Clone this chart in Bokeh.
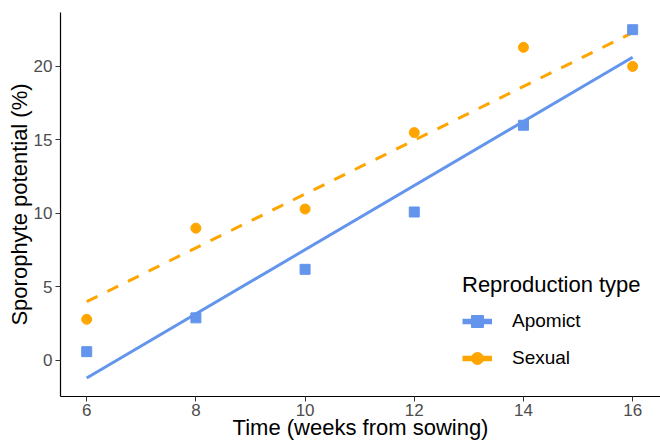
import numpy as np
from bokeh.plotting import figure
from bokeh.models import Range1d, FixedTicker, Legend, LegendItem
from bokeh.embed import file_html
from bokeh.resources import INLINE

weeks = [6, 8, 10, 12, 14, 16]
apomict = [0.6, 2.9, 6.2, 10.1, 16.0, 22.5]
sexual = [2.8, 9.0, 10.3, 15.5, 21.3, 20.0]
x_ticks = [6, 8, 10, 12, 14, 16]
y_ticks = [0, 5, 10, 15, 20]

BLUE = "#6495ED"
ORANGE = "#FFA500"
FONT = "Liberation Sans"

def fit(x, y):
    b, a = np.polyfit(x, y, 1)
    xs = np.array([min(x), max(x)], dtype=float)
    return xs, a + b * xs

Y0, Y1 = -2.45, 23.67
p = figure(width=660, height=441, output_backend="svg", toolbar_location=None,
           x_range=Range1d(5.52, 16.51), y_range=Range1d(Y0, Y1),
           min_border_left=60, min_border_right=0, min_border_top=12, min_border_bottom=45)
p.frame_width = 600
p.frame_height = 384
p.outline_line_color = None
p.grid.visible = False
p.background_fill_color = "white"

xa, ya = fit(weeks, apomict)
xs_, ys_ = fit(weeks, sexual)

p.line(xa, ya, line_color=BLUE, line_width=3)
p.line(xs_, ys_, line_color=ORANGE, line_width=3, line_dash="12 11")
p.scatter(weeks, apomict, marker="square", size=10, fill_color=BLUE, line_color=BLUE)
p.scatter(weeks, sexual, marker="circle", size=10, fill_color=ORANGE, line_color=ORANGE)

# legend-only key glyphs (larger, as in the reference), placed outside the visible range
off_x = [weeks[0], weeks[1]]
off_y = [Y0 - 100, Y0 - 100]
kla = p.line(off_x, off_y, line_color=BLUE, line_width=5.5)
kma = p.scatter(off_x, off_y, marker="square", size=13, fill_color=BLUE, line_color=BLUE)
kls = p.line(off_x, off_y, line_color=ORANGE, line_width=5.5)
kms = p.scatter(off_x, off_y, marker="circle", size=13, fill_color=ORANGE, line_color=ORANGE)

for ax in (p.xaxis[0], p.yaxis[0]):
    ax.axis_line_color = "black"
    ax.axis_line_width = 1.2
    ax.major_tick_line_color = "#333333"
    ax.major_tick_out = 5
    ax.major_tick_in = 0
    ax.minor_tick_line_color = None
    ax.major_label_text_font = FONT
    ax.major_label_text_font_size = "17px"
    ax.major_label_text_color = "#4d4d4d"
    ax.axis_label_text_font = FONT
    ax.axis_label_text_font_size = "22px"
    ax.axis_label_text_font_style = "normal"
    ax.axis_label_text_color = "black"

p.xaxis.ticker = FixedTicker(ticks=x_ticks)
p.yaxis.ticker = FixedTicker(ticks=y_ticks)
p.xaxis.axis_label = "Time (weeks from sowing)"
p.yaxis.axis_label = "Sporophyte potential (%)"
p.xaxis.major_label_standoff = 2
p.xaxis.axis_label_standoff = -4
p.yaxis.major_label_standoff = 3
p.yaxis.axis_label_standoff = -1

legend = Legend(items=[LegendItem(label="Apomict", renderers=[kla, kma]),
                       LegendItem(label="Sexual", renderers=[kls, kms])],
                location=(402, 22), title="Reproduction type")
legend.title_text_font = FONT
legend.title_text_font_size = "22px"
legend.title_text_font_style = "normal"
legend.title_text_color = "black"
legend.title_standoff = 7
legend.label_text_font = FONT
legend.label_text_font_size = "19px"
legend.label_text_color = "black"
legend.glyph_width = 30
legend.glyph_height = 32
legend.label_height = 32
legend.spacing = 5
legend.label_standoff = 20
legend.border_line_color = None
legend.background_fill_alpha = 0
legend.padding = 4
legend.margin = 0
p.add_layout(legend)

open("out.html", "w").write(file_html(p, INLINE))
